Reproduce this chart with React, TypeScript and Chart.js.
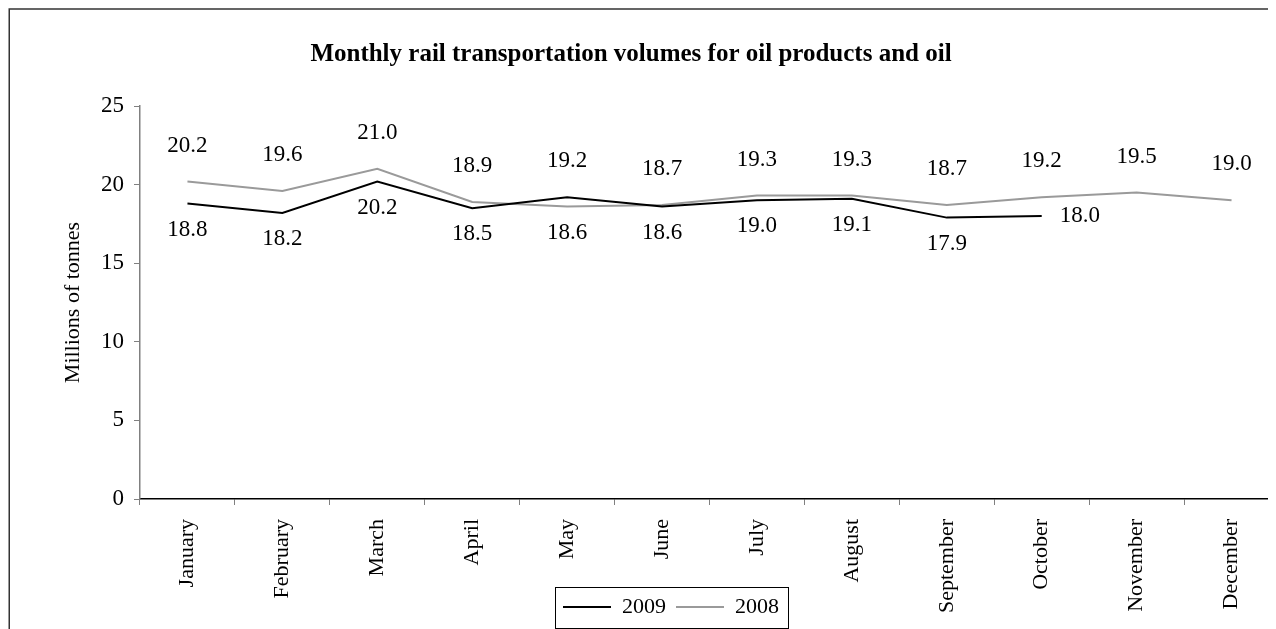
import React, { useEffect, useRef } from "react";
import { Chart, registerables } from "chart.js";

Chart.register(...registerables);

const months = [
  "January", "February", "March", "April", "May", "June",
  "July", "August", "September", "October", "November", "December",
];
const series2009 = [18.8, 18.2, 20.2, 18.5, 19.2, 18.6, 19.0, 19.1, 17.9, 18.0, null, null];
const series2008 = [20.2, 19.6, 21.0, 18.9, 18.6, 18.7, 19.3, 19.3, 18.7, 19.2, 19.5, 19.0];
const yMin = 0;
const yMax = 25;
const yStep = 5;
const chartTitle = "Monthly rail transportation volumes for oil products and oil";
const yAxisTitle = "Millions of tonnes";
const seriesNames = ["2009", "2008"];

const FONT = "'Liberation Serif', 'Times New Roman', Times, serif";
const CANVAS_W = 1300;
const CANVAS_H = 663;

const layoutTweaks = {
  id: "layoutTweaks",
  afterLayout(chart: any) {
    const t = chart.titleBlock;
    if (t) {
      const d = 623 - (t.left + t.right) / 2;
      t.left += d;
      t.right += d;
    }
    const l = chart.legend;
    if (l) {
      const dx = 663 - (l.left + l.right) / 2;
      l.left += dx;
      l.right += dx;
      const dy = 578 - l.top;
      l.top += dy;
      l.bottom += dy;
    }
  },
  afterDraw(chart: any) {
    const ctx = chart.ctx;
    ctx.save();
    // outer frame (right/bottom edges lie outside the visible page)
    ctx.strokeStyle = "#333";
    ctx.lineWidth = 1.5;
    ctx.strokeRect(1.25, 1, CANVAS_W + 20, CANVAS_H + 20);
    // legend frame
    const l = chart.legend;
    if (l && l.legendHitBoxes && l.legendHitBoxes.length) {
      const hb = l.legendHitBoxes;
      const first = hb[0];
      const last = hb[hb.length - 1];
      const x0 = Math.round(first.left - 8) + 0.5;
      const x1 = Math.round(last.left + last.width + 9) + 0.5;
      const y0 = Math.round(l.top + 1) + 0.5;
      const y1 = Math.round(l.top + 42) + 0.5;
      ctx.strokeStyle = "#000";
      ctx.lineWidth = 1;
      ctx.strokeRect(x0, y0, x1 - x0, y1 - y0);
    }
    ctx.restore();
  },
};

const dataLabels = {
  id: "dataLabels",
  afterDatasetsDraw(chart: any) {
    const ctx = chart.ctx;
    ctx.save();
    ctx.font = `23px ${FONT}`;
    ctx.fillStyle = "#000";
    ctx.textBaseline = "middle";
    const sets = chart.data.datasets;
    sets.forEach((ds: any, di: number) => {
      const meta = chart.getDatasetMeta(di);
      meta.data.forEach((pt: any, i: number) => {
        const v = ds.data[i];
        if (v == null) return;
        const others = sets
          .filter((_: any, k: number) => k !== di)
          .map((o: any) => o.data[i])
          .filter((x: any) => x != null);
        const isTop = others.every((o: number) => v >= o);
        const endsEarly = i < ds.data.length - 1 && ds.data[i + 1] == null;
        const txt = v.toFixed(1);
        if (endsEarly) {
          ctx.textAlign = "left";
          ctx.fillText(txt, pt.x + 18, pt.y);
        } else {
          ctx.textAlign = "center";
          ctx.fillText(txt, pt.x, isTop ? pt.y - 36 : pt.y + 26);
        }
      });
    });
    ctx.restore();
  },
};

export default function App() {
  const ref = useRef<HTMLCanvasElement | null>(null);

  useEffect(() => {
    if (!ref.current) return;
    Chart.defaults.font.family = FONT;
    Chart.defaults.color = "#000";
    const chart = new Chart(ref.current, {
      type: "line",
      data: {
        labels: months,
        datasets: [
          {
            label: seriesNames[0],
            data: series2009,
            borderColor: "#000000",
            backgroundColor: "#000000",
            borderWidth: 2,
            pointRadius: 0,
            tension: 0,
          },
          {
            label: seriesNames[1],
            data: series2008,
            borderColor: "#9a9a9a",
            backgroundColor: "#9a9a9a",
            borderWidth: 2,
            pointRadius: 0,
            tension: 0,
          },
        ],
      },
      options: {
        responsive: false,
        maintainAspectRatio: false,
        devicePixelRatio: 1,
        animation: false,
        events: [],
        layout: { padding: { left: 0, right: 29, top: 0, bottom: 0 } },
        plugins: {
          tooltip: { enabled: false },
          title: {
            display: true,
            text: chartTitle,
            color: "#000",
            font: { family: FONT, size: 25, weight: "bold" },
            padding: { top: 32, bottom: 36 },
          },
          legend: {
            display: true,
            position: "bottom",
            labels: {
              color: "#000",
              font: { family: FONT, size: 22 },
              boxWidth: 48,
              boxHeight: 0,
              padding: 10,
            },
          },
        },
        scales: {
          x: {
            type: "category",
            offset: true,
            grid: {
              offset: true,
              drawOnChartArea: false,
              drawTicks: true,
              tickLength: 6,
              color: "#808080",
              lineWidth: 1,
            },
            border: { display: true, color: "#000", width: 1.5 },
            ticks: {
              autoSkip: false,
              minRotation: 90,
              maxRotation: 90,
              padding: 14,
              color: "#000",
              font: { family: FONT, size: 22 },
            },
            afterFit(scale: any) {
              scale.height = 130;
            },
          },
          y: {
            min: yMin,
            max: yMax,
            grid: {
              drawOnChartArea: false,
              drawTicks: true,
              tickLength: 6,
              color: "#808080",
              lineWidth: 1,
            },
            border: { display: true, color: "#808080", width: 1.5 },
            ticks: {
              stepSize: yStep,
              padding: 10,
              color: "#000",
              font: { family: FONT, size: 23 },
            },
            title: {
              display: true,
              text: yAxisTitle,
              color: "#000",
              font: { family: FONT, size: 22 },
              padding: { top: 52, bottom: 0 },
            },
            afterFit(scale: any) {
              scale.width = 132;
            },
          },
        },
      },
      plugins: [layoutTweaks, dataLabels],
    });
    return () => chart.destroy();
  }, []);

  return (
    <div style={{ width: 1268, height: 621, overflow: "hidden" }}>
      <canvas
        ref={ref}
        width={CANVAS_W}
        height={CANVAS_H}
        style={{ display: "block", width: CANVAS_W, height: CANVAS_H }}
      />
    </div>
  );
}
